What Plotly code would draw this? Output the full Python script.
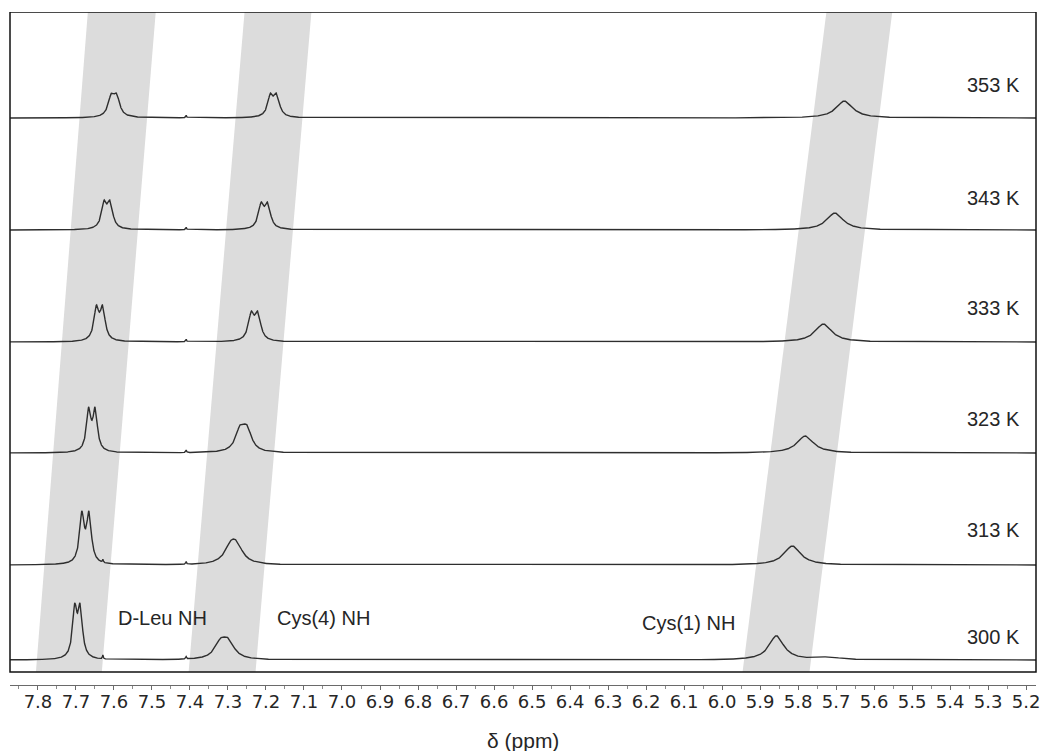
import numpy as np
import plotly.graph_objects as go

# ---------------- data ----------------
temps = ["300 K", "313 K", "323 K", "333 K", "343 K", "353 K"]
stack_offset = [25, 120, 232, 343, 455, 567]          # vertical stacking of spectra

# D-Leu NH doublet
dleu_center = [7.696, 7.675, 7.658, 7.638, 7.618, 7.600]
dleu_J      = [0.0144, 0.0189, 0.0171, 0.0165, 0.0158, 0.0144]
dleu_hw     = [0.0071, 0.0074, 0.0071, 0.0079, 0.0084, 0.0097]
dleu_height = [57, 54, 46, 37, 30, 25]

# Cys(4) NH doublet
cys4_center = [7.309, 7.285, 7.259, 7.230, 7.204, 7.180]
cys4_J      = [0.0210, 0.0158, 0.0184, 0.0173, 0.0173, 0.0165]
cys4_hw     = [0.0184, 0.0197, 0.0144, 0.0092, 0.0089, 0.0089]
cys4_height = [23, 26, 29, 31, 28, 25]

# Cys(1) NH singlet
cys1_center = [5.857, 5.815, 5.781, 5.733, 5.703, 5.678]
cys1_hw     = [0.0236, 0.0263, 0.0263, 0.0263, 0.0263, 0.0263]
cys1_height = [24, 19, 17, 18, 17, 17]

# small artefact signals
spike_center = 7.410
spike_height = [2.5, 2.5, 2.5, 2.5, 2.5, 2.5]
spike2_center = 7.629
spike2_height = [4, 3, 0, 0, 0, 0]
bump_center = 5.72
bump_height = [2.5, 0, 0, 0, 0, 0]

# shaded guide bands: (ppm at bottom-left, bottom-right, top-left, top-right)
bands = [
    (7.8053, 7.6319, 7.6687, 7.4901),
    (7.4035, 7.2275, 7.2564, 7.0805),
    (5.9460, 5.7700, 5.7254, 5.5521),
]

x_lo, x_hi = 5.17395, 7.87353
ppm = np.arange(x_lo, x_hi, 0.0004)


def lor(x, c, g):
    return 1.0 / (1.0 + ((x - c) / g) ** 2)


def scaled(shape, h):
    m = shape.max()
    return shape / m * h if m > 0 else shape


fig = go.Figure()

Y_BOTTOM, Y_TOP = 13, 673

for b in bands:
    bl, br, tl, tr = b
    fig.add_shape(type="path",
                  path=f"M {bl} {Y_BOTTOM} L {br} {Y_BOTTOM} L {tr} {Y_TOP} L {tl} {Y_TOP} Z",
                  xref="x", yref="y", fillcolor="#dcdcdc", line=dict(width=0),
                  layer="below")

for i, t in enumerate(temps):
    d = scaled(lor(ppm, dleu_center[i] + dleu_J[i] / 2, dleu_hw[i]) +
               lor(ppm, dleu_center[i] - dleu_J[i] / 2, dleu_hw[i]), dleu_height[i])
    c4 = scaled(lor(ppm, cys4_center[i] + cys4_J[i] / 2, cys4_hw[i]) +
                lor(ppm, cys4_center[i] - cys4_J[i] / 2, cys4_hw[i]), cys4_height[i])
    c1 = cys1_height[i] * lor(ppm, cys1_center[i], cys1_hw[i])
    sp = spike_height[i] * lor(ppm, spike_center, 0.0015)
    sp2 = spike2_height[i] * lor(ppm, spike2_center, 0.0012)
    bu = bump_height[i] * lor(ppm, bump_center, 0.035)
    y = stack_offset[i] + d + c4 + c1 + sp + sp2 + bu
    fig.add_trace(go.Scatter(x=ppm, y=y, mode="lines",
                             line=dict(color="#2e2e2e", width=1.4),
                             name=t, showlegend=False, hoverinfo="skip"))

# frame around the spectra
fig.add_shape(type="rect", xref="paper", yref="y", x0=0, x1=1, y0=Y_BOTTOM, y1=Y_TOP,
              line=dict(color="#111111", width=1.5), fillcolor="rgba(0,0,0,0)")

label_font = dict(family="Liberation Sans, Arial, sans-serif", size=20, color="#262626")
temp_label_y = [48, 155, 266, 377, 487, 600]
for t, yy in zip(temps, temp_label_y):
    fig.add_annotation(x=0.9864, xref="paper", y=yy, yref="y", text=t,
                       showarrow=False, xanchor="right", yanchor="middle", font=label_font)

peak_labels = ["D-Leu NH", "Cys(4) NH", "Cys(1) NH"]
peak_label_x = [7.4717, 7.0489, 6.0878]
peak_label_y = [67, 67, 62]
for txt, xx, yy in zip(peak_labels, peak_label_x, peak_label_y):
    fig.add_annotation(x=xx, y=yy, xref="x", yref="y", text=txt, showarrow=False,
                       xanchor="center", yanchor="middle", font=label_font)

fig.add_annotation(x=0.5, xref="paper", y=-0.082, yref="paper", text="δ (ppm)",
                   showarrow=False, xanchor="center", yanchor="middle",
                   font=dict(family="Liberation Sans, Arial, sans-serif", size=21, color="#262626"))

fig.update_layout(
    width=1050, height=751, autosize=False,
    margin=dict(l=10, r=12, t=12, b=66),
    paper_bgcolor="white", plot_bgcolor="white",
    xaxis=dict(range=[x_hi, x_lo], showgrid=False, zeroline=False,
               showline=True, linecolor="#6a6a6a", linewidth=1,
               ticks="outside", ticklen=4, tickcolor="#6a6a6a", tickwidth=1,
               ticklabelstandoff=-4,
               tick0=5.2, dtick=0.1, tickformat=".1f",
               tickfont=dict(family="DejaVu Sans, Verdana, sans-serif", size=18, color="#262626"),
               minor=dict(dtick=0.05, ticks="outside", ticklen=3, tickcolor="#8a8a8a", showgrid=False)),
    yaxis=dict(range=[0, 673], visible=False, showgrid=False, zeroline=False),
)

fig.write_html("out.html")
